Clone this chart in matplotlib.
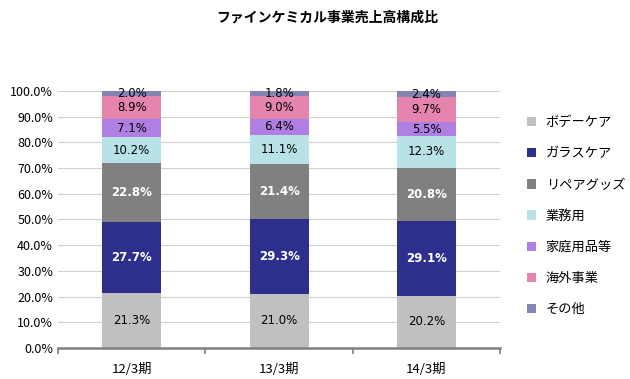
import numpy as np
import matplotlib
matplotlib.use("Agg")
import matplotlib.pyplot as plt
from matplotlib.ticker import PercentFormatter

plt.rcParams['font.family'] = ['Noto Sans CJK JP', 'DejaVu Sans']

periods = ['12/3期', '13/3期', '14/3期']
segments = ['ボデーケア', 'ガラスケア', 'リペアグッズ', '業務用', '家庭用品等', '海外事業', 'その他']
shares = [
    [21.3, 21.0, 20.2],
    [27.7, 29.3, 29.1],
    [22.8, 21.4, 20.8],
    [10.2, 11.1, 12.3],
    [7.1, 6.4, 5.5],
    [8.9, 9.0, 9.7],
    [2.0, 1.8, 2.4],
]
colors = ['#c0c0c0', '#2e2e8c', '#808080', '#b8e2e6', '#b07fe3', '#e584ad', '#8585b5']
label_colors = ['black', 'white', 'white', 'black', 'black', 'black', 'black']

fig = plt.figure(figsize=(6.3, 3.79), dpi=100)
ax = fig.add_axes([0.092, 0.082, 0.702, 0.678])

x = np.arange(len(periods))
bottom = np.zeros(len(periods))
handles = []
for name, vals, c, lc in zip(segments, shares, colors, label_colors):
    vals = np.array(vals)
    bars = ax.bar(x, vals, 0.40, bottom=bottom, color=c, label=name, zorder=2)
    handles.append(bars)
    for xi, b, v in zip(x, bottom, vals):
        bold = lc == 'white'
        ax.text(xi, b + v / 2, f'{v:.1f}%', ha='center', va='center',
                color=lc, fontsize=8.5, fontweight='bold' if bold else 'normal',
                family=['DejaVu Sans'], zorder=3)
    bottom += vals

ax.set_xlim(-0.5, 2.5)
ax.set_ylim(0, 100)
ax.set_yticks(np.arange(0, 101, 10))
ax.yaxis.set_major_formatter(PercentFormatter(decimals=1))
ax.grid(axis='y', color='#d0d0d0', linewidth=0.8, zorder=0)
ax.set_xticks(x)
ax.set_xticklabels(periods, fontsize=9.5)
ax.set_xticks([-0.5, 0.5, 1.5, 2.5], minor=True)
ax.tick_params(axis='x', which='major', length=0, pad=11)
ax.tick_params(axis='x', which='minor', length=4, direction='out', color='#808080', width=1.2)
ax.tick_params(axis='y', length=0, labelsize=9)
for s in ['top', 'right', 'left']:
    ax.spines[s].set_visible(False)
ax.spines['bottom'].set_color('#808080')
ax.spines['bottom'].set_linewidth(1.8)

fig.legend(handles, segments, loc='upper left', bbox_to_anchor=(0.818, 0.725),
           frameon=False, fontsize=9.5, handlelength=0.7, handleheight=0.7,
           labelspacing=1.38, handletextpad=0.7)

fig.text(0.52, 0.955, 'ファインケミカル事業売上高構成比', ha='center', va='center',
         fontsize=10, fontweight='bold')

fig.savefig('out.png', dpi=100)
